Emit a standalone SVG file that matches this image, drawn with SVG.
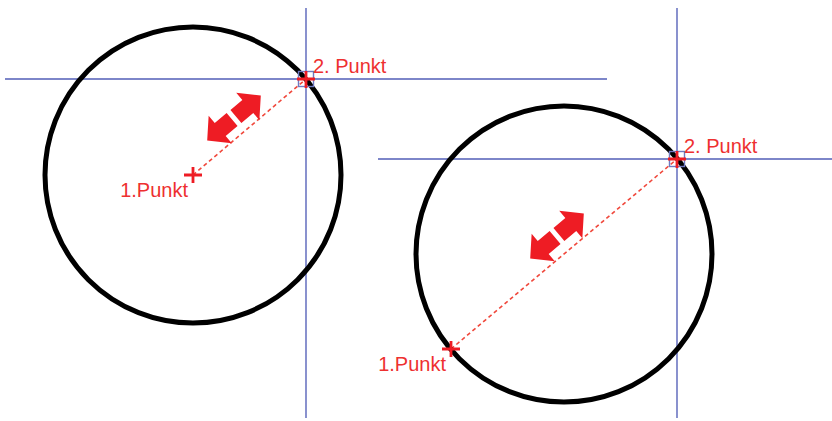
<svg xmlns="http://www.w3.org/2000/svg" width="832" height="421" viewBox="0 0 832 421">
  <style>
    .guide { stroke: #7d86c9; stroke-width: 1.8; fill: none; }
    .snap { stroke: #6f79c2; stroke-width: 1.4; fill: none; }
    .circ { stroke: #000; stroke-width: 5; fill: none; }
    .dash { stroke: #f0483c; stroke-width: 1.6; stroke-dasharray: 4 3; fill: none; }
    .cross { stroke: #ee1c24; stroke-width: 2.8; fill: none; }
    .arrow { fill: #ee1c24; }
    .lbl { font-family: "Liberation Sans", Arial, sans-serif; font-size: 20px; fill: #ee3030; }
  </style>
  <defs>
    <g id="dbl">
      <polygon points="2.5,-8.5 18,-8.5 18,-18 35,0 18,18 18,8.5 2.5,8.5"/>
      <polygon points="-2.5,-8.5 -18,-8.5 -18,-18 -35,0 -18,18 -18,8.5 -2.5,8.5"/>
    </g>
  </defs>

  <g id="connectors">
    <line class="guide" x1="5" y1="79" x2="607" y2="79"/>
    <line class="guide" x1="306" y1="8" x2="306" y2="418"/>
    <line class="guide" x1="378" y1="159" x2="832" y2="159"/>
    <line class="guide" x1="677" y1="8" x2="677" y2="418"/>
    <line class="dash" x1="193" y1="175" x2="306" y2="79"/>
    <line class="dash" x1="451" y1="349" x2="677" y2="159"/>
  </g>

  <g id="circle-left">
    <circle class="circ" cx="193" cy="175" r="148"/>
  </g>
  <g id="circle-right">
    <circle class="circ" cx="564" cy="254" r="148"/>
  </g>

  <g id="arrow-left" class="arrow">
    <use href="#dbl" transform="translate(234,118) rotate(-40)"/>
  </g>
  <g id="arrow-right" class="arrow">
    <use href="#dbl" transform="translate(557,236) rotate(-40)"/>
  </g>

  <g id="left-p1">
    <path class="cross" d="M184,175 H202 M193,167 V183"/>
    <text class="lbl" x="188" y="197" text-anchor="end">1.Punkt</text>
  </g>
  <g id="left-p2">
    <rect class="snap" x="298.5" y="71.5" width="15" height="15"/>
    <path class="cross" d="M297,79 H315 M306,71 V88"/>
    <text class="lbl" x="313" y="73">2. Punkt</text>
  </g>
  <g id="right-p1">
    <path class="cross" d="M442,349 H460 M451,341 V357"/>
    <text class="lbl" x="446" y="371" text-anchor="end">1.Punkt</text>
  </g>
  <g id="right-p2">
    <rect class="snap" x="669.5" y="151.5" width="15" height="15"/>
    <path class="cross" d="M668,159 H686 M677,151 V168"/>
    <text class="lbl" x="684" y="153">2. Punkt</text>
  </g>
</svg>
